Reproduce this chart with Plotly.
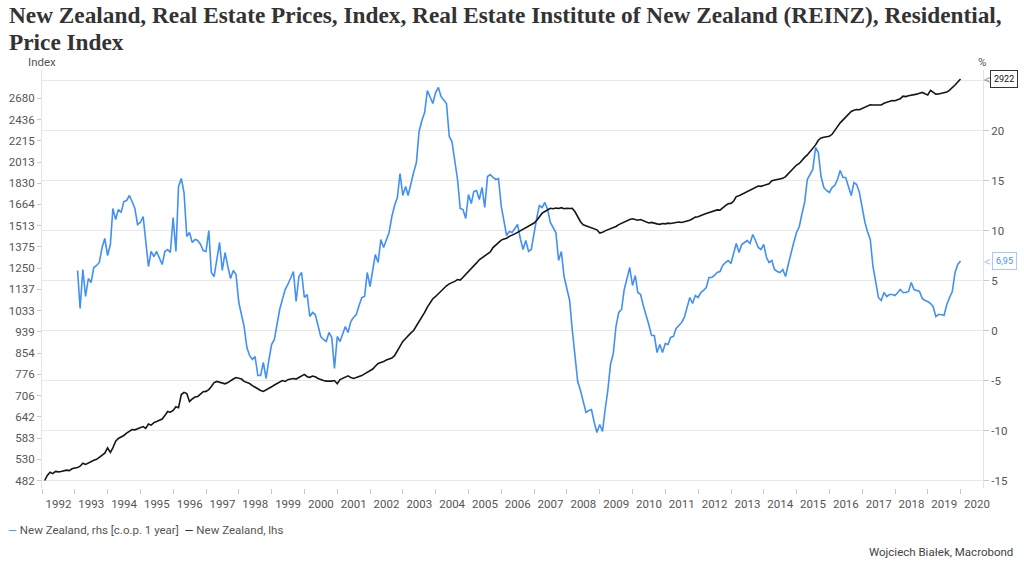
import math
import pandas as pd
import plotly.graph_objects as go

# ---------------- data ----------------
# New Zealand, lhs: REINZ residential price index, monthly, Jan 1992 - Dec 2019
black_1992 = [482, 493, 500, 497, 502, 501, 502, 503, 505, 504, 508, 510]
black_1993 = [511, 514, 521, 518, 522, 526, 528, 530, 535, 540, 545, 558]
black_1994 = [547, 558, 575, 582, 585, 590, 596, 600, 606, 605, 608, 612]
black_1995 = [614, 609, 621, 618, 625, 628, 632, 635, 645, 657, 655, 660]
black_1996 = [671, 668, 709, 716, 712, 687, 695, 701, 703, 712, 718, 719]
black_1997 = [725, 735, 748, 752, 750, 748, 744, 748, 755, 760, 765, 763]
black_1998 = [760, 752, 749, 745, 738, 732, 728, 722, 719, 725, 730, 734]
black_1999 = [740, 745, 752, 755, 752, 758, 760, 762, 760, 765, 772, 776]
black_2000 = [768, 766, 770, 768, 762, 758, 755, 753, 752, 753, 755, 744]
black_2001 = [758, 762, 768, 771, 765, 762, 765, 768, 772, 778, 783, 787]
black_2002 = [795, 805, 815, 819, 822, 828, 832, 835, 844, 862, 880, 900]
black_2003 = [912, 925, 935, 945, 965, 985, 1000, 1025, 1050, 1070, 1090, 1101]
black_2004 = [1115, 1130, 1144, 1155, 1165, 1170, 1178, 1188, 1185, 1200, 1215, 1230]
black_2005 = [1245, 1262, 1280, 1298, 1310, 1325, 1338, 1345, 1371, 1385, 1400, 1418]
black_2006 = [1425, 1430, 1442, 1448, 1458, 1468, 1478, 1485, 1495, 1505, 1518, 1531]
black_2007 = [1550, 1570, 1600, 1612, 1625, 1636, 1632, 1638, 1634, 1640, 1632, 1636]
black_2008 = [1634, 1636, 1610, 1575, 1540, 1519, 1512, 1505, 1500, 1496, 1485, 1463]
black_2009 = [1468, 1478, 1485, 1492, 1500, 1507, 1520, 1530, 1540, 1548, 1555, 1560]
black_2010 = [1552, 1550, 1555, 1548, 1540, 1531, 1535, 1528, 1525, 1522, 1528, 1525]
black_2011 = [1530, 1528, 1532, 1535, 1538, 1535, 1540, 1544, 1550, 1560, 1572, 1575]
black_2012 = [1580, 1590, 1598, 1605, 1610, 1618, 1624, 1622, 1640, 1655, 1669, 1672]
black_2013 = [1690, 1724, 1730, 1740, 1750, 1763, 1775, 1785, 1795, 1808, 1805, 1812]
black_2014 = [1815, 1825, 1851, 1855, 1860, 1866, 1871, 1885, 1910, 1942, 1960, 1986]
black_2015 = [2000, 2030, 2055, 2078, 2110, 2145, 2174, 2220, 2243, 2250, 2255, 2260]
black_2016 = [2280, 2324, 2360, 2400, 2432, 2470, 2500, 2526, 2540, 2549, 2545, 2560]
black_2017 = [2575, 2590, 2603, 2600, 2598, 2595, 2600, 2620, 2630, 2645, 2652, 2650]
black_2018 = [2660, 2675, 2705, 2700, 2710, 2715, 2720, 2730, 2740, 2751, 2735, 2720]
black_2019 = [2776, 2755, 2730, 2732, 2738, 2740, 2755, 2780, 2806, 2845, 2884, 2922]

# New Zealand, rhs [c.o.p. 1 year], %, monthly, Jan 1993 - Dec 2019
blue_1993 = [6.0, 2.2, 6.1, 3.4, 5.2, 4.8, 6.3, 6.5, 6.8, 8.3, 9.2, 7.5]
blue_1994 = [8.6, 12.2, 11.1, 12.1, 11.8, 12.9, 13.0, 13.5, 12.9, 12.2, 10.6, 10.8]
blue_1995 = [11.4, 8.9, 6.4, 7.9, 7.4, 7.9, 7.2, 6.6, 7.9, 8.1, 7.8, 11.3]
blue_1996 = [7.9, 14.4, 15.2, 13.8, 9.4, 9.8, 8.8, 9.1, 9.0, 8.6, 8.0, 7.9]
blue_1997 = [10.0, 5.8, 5.4, 7.0, 8.8, 6.0, 7.8, 6.4, 5.2, 6.0, 5.6, 2.8]
blue_1998 = [1.6, 0.4, -1.7, -2.5, -2.9, -2.6, -4.5, -4.5, -3.2, -4.8, -3.0, -1.4]
blue_1999 = [-0.9, 0.6, 2.1, 3.1, 4.1, 4.6, 5.3, 5.9, 2.9, 5.4, 5.8, 3.3]
blue_2000 = [3.6, 1.4, 1.8, 1.6, 0.5, -0.6, -0.9, -1.1, -0.2, -0.7, -3.8, -0.6]
blue_2001 = [-1.1, -0.3, 0.4, -0.2, 0.9, 1.3, 1.6, 2.5, 3.3, 3.4, 5.8, 4.4]
blue_2002 = [6.0, 7.6, 6.8, 9.1, 8.3, 9.0, 9.8, 11.4, 12.5, 13.3, 15.7, 13.5]
blue_2003 = [14.4, 13.5, 14.8, 15.8, 16.8, 19.9, 21.0, 21.8, 24.0, 23.3, 22.7, 23.8]
blue_2004 = [24.3, 23.4, 23.0, 22.7, 19.4, 18.9, 17.0, 15.1, 12.2, 12.1, 11.2, 13.6]
blue_2005 = [12.7, 13.9, 14.0, 13.1, 14.3, 12.3, 15.4, 15.6, 15.3, 15.1, 15.2, 12.4]
blue_2006 = [10.9, 9.5, 9.9, 9.8, 10.2, 10.6, 9.2, 8.1, 9.0, 7.9, 8.1, 9.8]
blue_2007 = [11.3, 12.5, 12.3, 12.8, 12.1, 10.8, 10.3, 9.8, 7.0, 7.9, 5.4, 4.2]
blue_2008 = [3.0, 0.1, -2.6, -5.1, -6.0, -7.0, -8.2, -8.0, -7.9, -9.2, -10.2, -9.4]
blue_2009 = [-10.1, -8.0, -6.0, -3.4, -2.3, 0.4, 1.8, 2.1, 4.1, 5.2, 6.3, 4.5]
blue_2010 = [5.5, 3.8, 3.6, 2.5, 1.6, 0.6, -0.5, -0.5, -2.2, -1.4, -2.2, -1.3]
blue_2011 = [-1.4, -0.7, -0.6, 0.2, 0.5, 0.8, 1.3, 2.3, 3.3, 2.7, 3.5, 3.3]
blue_2012 = [3.8, 4.0, 4.3, 5.3, 5.3, 5.5, 5.8, 5.9, 6.5, 6.8, 7.0, 6.7]
blue_2013 = [7.8, 8.7, 7.8, 8.6, 8.8, 9.0, 8.7, 9.6, 9.0, 8.3, 8.1, 8.6]
blue_2014 = [7.3, 6.8, 7.0, 6.1, 5.9, 5.8, 6.1, 5.4, 6.6, 7.9, 8.8, 9.8]
blue_2015 = [10.4, 11.6, 12.8, 15.1, 15.6, 16.1, 18.3, 17.8, 15.4, 14.3, 14.0, 13.8]
blue_2016 = [14.3, 14.5, 15.1, 16.0, 15.3, 15.3, 14.4, 13.5, 14.8, 14.6, 13.8, 12.1]
blue_2017 = [10.8, 9.9, 9.1, 6.4, 4.8, 3.3, 3.0, 3.8, 3.4, 3.6, 3.6, 3.5]
blue_2018 = [3.8, 4.1, 3.8, 3.8, 3.9, 4.8, 4.1, 4.0, 3.9, 3.2, 3.0, 2.9]
blue_2019 = [2.7, 2.4, 1.4, 1.6, 1.6, 1.5, 2.6, 3.3, 3.9, 5.8, 6.6, 6.95]

black_years = [black_1992, black_1993, black_1994, black_1995, black_1996, black_1997,
               black_1998, black_1999, black_2000, black_2001, black_2002, black_2003,
               black_2004, black_2005, black_2006, black_2007, black_2008, black_2009,
               black_2010, black_2011, black_2012, black_2013, black_2014, black_2015,
               black_2016, black_2017, black_2018, black_2019]
blue_years = [blue_1993, blue_1994, blue_1995, blue_1996, blue_1997, blue_1998,
              blue_1999, blue_2000, blue_2001, blue_2002, blue_2003, blue_2004,
              blue_2005, blue_2006, blue_2007, blue_2008, blue_2009, blue_2010,
              blue_2011, blue_2012, blue_2013, blue_2014, blue_2015, blue_2016,
              blue_2017, blue_2018, blue_2019]

black_values = [v for yr in black_years for v in yr]
blue_values = [v for yr in blue_years for v in yr]

black_dates = pd.date_range("1992-01-01", periods=len(black_values), freq="MS") + pd.offsets.MonthEnd(0)
blue_dates = pd.date_range("1993-01-01", periods=len(blue_values), freq="MS") + pd.offsets.MonthEnd(0)

left_tick_labels = ["482", "530", "583", "642", "706", "776", "854", "939", "1033", "1137",
                    "1250", "1375", "1513", "1664", "1830", "2013", "2215", "2436", "2680"]
left_tick_vals = [float(s) for s in left_tick_labels]
right_tick_vals = [-15, -10, -5, 0, 5, 10, 15, 20, 25]
right_tick_labels = ["-15", "-10", "-5", "0", "5", "10", "15", "20", ""]

title_line1 = "New Zealand, Real Estate Prices, Index, Real Estate Institute of New Zealand (REINZ), Residential,"
title_line2 = "Price Index"
legend_blue = "New Zealand, rhs [c.o.p. 1 year]"
legend_black = "New Zealand, lhs"
credit = "Wojciech Białek, Macrobond"

BLUE = "#4290f5"
BLACK = "#151515"
TICK_FONT = dict(family="Roboto, Noto Sans, sans-serif", size=11.5, color="#555555")

# ---------------- figure ----------------
fig = go.Figure()
fig.add_trace(go.Scatter(x=blue_dates, y=blue_values, name=legend_blue, mode="lines",
                         line=dict(color=BLUE, width=1.6), yaxis="y"))
fig.add_trace(go.Scatter(x=black_dates, y=black_values, name=legend_black, mode="lines",
                         line=dict(color=BLACK, width=1.6), yaxis="y2"))

# right (%) axis: -15 at 481px, 10px per point; plot area from 70px to 488px
r_lo, r_hi = -15.75, 26.05
# left (log) axis aligned so that 482 sits on the -15 gridline, ~513px per decade
px_per_decade = 513.0
plot_h = 569 - 70 - 81
l_lo = math.log10(482) - ((-15 - r_lo) * 10) / px_per_decade
l_hi = l_lo + plot_h / px_per_decade

fig.update_layout(
    width=1024, height=569, autosize=False,
    margin=dict(l=42, r=41, t=70, b=81, autoexpand=False),
    paper_bgcolor="white", plot_bgcolor="white",
    font=dict(family="Roboto, Noto Sans, sans-serif", size=11, color="#555555"),
    showlegend=False,
    xaxis=dict(type="date", range=["1992-01-01", "2020-09-06"],
               tick0="1992-01-01", dtick="M12", tickformat="%Y", ticklabelmode="period",
               ticks="outside", ticklen=5, tickcolor="#c8c8c8", showgrid=False,
               showline=False, zeroline=False, tickfont=TICK_FONT, automargin=False),
    yaxis=dict(side="right", range=[r_lo, r_hi], tickvals=right_tick_vals,
               ticktext=right_tick_labels, showgrid=True, gridcolor="#e8e8e8",
               gridwidth=1, zeroline=False, showline=True, linecolor="#e3e3e3",
               ticks="outside", ticklen=5, tickcolor="#c8c8c8", tickfont=TICK_FONT,
               automargin=False),
    yaxis2=dict(type="log", side="left", overlaying="y", range=[l_lo, l_hi],
                tickvals=left_tick_vals, ticktext=left_tick_labels, showgrid=False,
                zeroline=False, showline=True, linecolor="#e3e3e3",
                ticks="outside", ticklen=4, tickcolor="#c8c8c8", tickfont=TICK_FONT,
                automargin=False),
)


def px_x(px):
    return (px - 42) / 941.0


def px_y(py):
    return (488 - py) / float(plot_h)


serif = "Liberation Serif, DejaVu Serif, serif"
fig.add_annotation(text="<b>" + title_line1 + "</b>", xref="paper", yref="paper",
                   x=px_x(7), y=px_y(15), xanchor="left", yanchor="middle",
                   showarrow=False, font=dict(family=serif, size=23.3, color="#333333"))
fig.add_annotation(text="<b>" + title_line2 + "</b>", xref="paper", yref="paper",
                   x=px_x(7), y=px_y(41.5), xanchor="left", yanchor="middle",
                   showarrow=False, font=dict(family=serif, size=23.3, color="#333333"))
fig.add_annotation(text="Index", xref="paper", yref="paper", x=px_x(42), y=px_y(62),
                   xanchor="center", yanchor="middle", showarrow=False,
                   font=dict(size=11.5, color="#555555"))
fig.add_annotation(text="%", xref="paper", yref="paper", x=px_x(982), y=px_y(62),
                   xanchor="center", yanchor="middle", showarrow=False,
                   font=dict(size=11.5, color="#555555"))
fig.add_annotation(text=credit, xref="paper", yref="paper", x=px_x(1015), y=px_y(552),
                   xanchor="right", yanchor="middle", showarrow=False,
                   font=dict(size=11.5, color="#444444"))

# legend (compact, as in the reference)
legend_text = ('<span style="color:%s">\u2014</span> %s  <span style="color:%s">\u2014</span> %s'
               % (BLUE, legend_blue, BLACK, legend_black))
fig.add_annotation(text=legend_text, xref="paper", yref="paper", x=px_x(6), y=px_y(530),
                   xanchor="left", yanchor="middle", showarrow=False,
                   font=dict(size=11.5, color="#555555"))

# last-value callouts
last_black = black_values[-1]
last_blue = blue_values[-1]
fig.add_annotation(text=str(last_black), xref="paper", yref="y2", x=px_x(1004),
                   y=math.log10(last_black), xanchor="center", yanchor="middle",
                   showarrow=False, bgcolor="white", bordercolor="#333333", borderwidth=1,
                   borderpad=3, font=dict(size=9, color="#111111"))
fig.add_annotation(text="<", xref="paper", yref="y2", x=px_x(987), y=math.log10(last_black),
                   xanchor="center", yanchor="middle", showarrow=False,
                   font=dict(size=13, color="#9a9a9a"))
fig.add_annotation(text=("%.2f" % last_blue).replace(".", ","), xref="paper", yref="y",
                   x=px_x(1004), y=last_blue, xanchor="center", yanchor="middle",
                   showarrow=False, bgcolor="white", bordercolor="#a9c9f7", borderwidth=1,
                   borderpad=3, font=dict(size=9, color=BLUE))
fig.add_annotation(text="<", xref="paper", yref="y", x=px_x(987), y=last_blue,
                   xanchor="center", yanchor="middle", showarrow=False,
                   font=dict(size=13, color="#a9c9f7"))

fig.write_html("out.html", config={"displayModeBar": False},
               post_script="document.body.style.margin='0';")
